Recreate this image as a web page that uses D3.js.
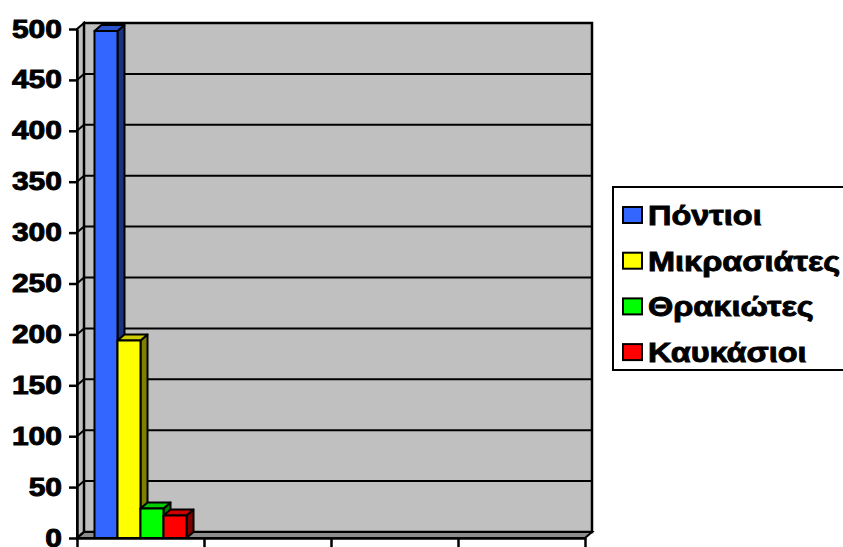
<!DOCTYPE html>
<html>
<head>
<meta charset="utf-8">
<script src="https://cdn.jsdelivr.net/npm/d3@7"></script>
<style>
  body { margin: 0; background: #fff; }
  svg text { font-family: "Liberation Sans", Arial, sans-serif; font-weight: bold; fill: #000; stroke: #000; stroke-width: 0.9px; }
</style>
</head>
<body>
<div id="chart"></div>
<script>
// chart data
const categories = ["1", "2", "3", "4"];
const series = ["Πόντιοι", "Μικρασιάτες", "Θρακιώτες", "Καυκάσιοι"];
const pontioi = [498, null, null, null];
const mikrasiates = [194, null, null, null];
const thrakiotes = [29, null, null, null];
const kaukasioi = [22, null, null, null];
const yTicks = [0, 50, 100, 150, 200, 250, 300, 350, 400, 450, 500];

const seriesValues = [pontioi, mikrasiates, thrakiotes, kaukasioi];

// colours: front, top, side
const colors = [
    ["#3366ff", "#2952cc", "#1a3380"],
    ["#ffff00", "#cccc00", "#808000"],
    ["#00ff00", "#00cc00", "#008000"],
    ["#ff0000", "#cc0000", "#800000"]
];

const width = 843, height = 547;
const dx = 7, dy = -6; // 3d depth offset

const svg = d3.select("#chart").append("svg")
    .attr("width", width)
    .attr("height", height);

const y = d3.scaleLinear().domain([0, 500]).range([538, 29]);
const x0 = d3.scaleBand().domain(categories).range([77, 585]);
const x1 = d3.scaleBand().domain(series).range([0, x0.bandwidth()]).paddingOuter(0.76);
const xEdge = d3.scaleLinear().domain([0, categories.length]).range(x0.range());

const plotLeft = x0.range()[0], plotRight = x0.range()[1];
const plotBottom = y(0), plotTop = y(d3.max(yTicks));

// side wall
svg.append("polygon")
    .attr("points", [[plotLeft, plotBottom], [plotLeft, plotTop], [plotLeft + dx, plotTop + dy], [plotLeft + dx, plotBottom + dy]].join(" "))
    .attr("fill", "#c0c0c0")
    .attr("stroke", "#000")
    .attr("stroke-width", 2);

// back wall
svg.append("rect")
    .attr("x", plotLeft + dx)
    .attr("y", plotTop + dy)
    .attr("width", plotRight - plotLeft)
    .attr("height", plotBottom - plotTop)
    .attr("fill", "#c0c0c0")
    .attr("stroke", "#000")
    .attr("stroke-width", 2.5);

// floor
svg.append("polygon")
    .attr("points", [[plotLeft, plotBottom], [plotRight, plotBottom], [plotRight + dx, plotBottom + dy], [plotLeft + dx, plotBottom + dy]].join(" "))
    .attr("fill", "#8c8c8c")
    .attr("stroke", "#000")
    .attr("stroke-width", 2);

// gridlines on back and side walls
const grid = svg.append("g").attr("stroke", "#000").attr("stroke-width", 2);
grid.selectAll(".back")
    .data(yTicks.slice(1, -1))
    .enter().append("line")
    .attr("x1", plotLeft + dx).attr("x2", plotRight + dx)
    .attr("y1", d => y(d) + dy).attr("y2", d => y(d) + dy);
grid.selectAll(".side")
    .data(yTicks.slice(0, -1))
    .enter().append("line")
    .attr("x1", plotLeft).attr("x2", plotLeft + dx)
    .attr("y1", d => y(d)).attr("y2", d => y(d) + dy);

// bars
const bars = [];
categories.forEach((c, ci) => {
    series.forEach((s, si) => {
        const v = seriesValues[si][ci];
        if (v != null) bars.push({ c, s, si, v });
    });
});

const barG = svg.append("g")
    .attr("stroke", "#000")
    .attr("stroke-width", 2)
    .attr("stroke-linejoin", "round");

bars.forEach(d => {
    const bx = x0(d.c) + x1(d.s);
    const w = x1.bandwidth();
    const ty = y(d.v);
    const g = barG.append("g");
    g.append("polygon")
        .attr("points", [[bx + w, ty], [bx + w + dx, ty + dy], [bx + w + dx, plotBottom + dy], [bx + w, plotBottom]].join(" "))
        .attr("fill", colors[d.si][2]);
    g.append("polygon")
        .attr("points", [[bx, ty], [bx + dx, ty + dy], [bx + w + dx, ty + dy], [bx + w, ty]].join(" "))
        .attr("fill", colors[d.si][1]);
    g.append("rect")
        .attr("x", bx)
        .attr("y", ty)
        .attr("width", w)
        .attr("height", plotBottom - ty)
        .attr("fill", colors[d.si][0]);
});

// y axis
const yAxis = svg.append("g")
    .attr("transform", `translate(${plotLeft},0)`)
    .call(d3.axisLeft(y).tickValues(yTicks).tickSize(8).tickSizeOuter(0));
yAxis.select(".domain").attr("stroke-width", 2.5);
yAxis.selectAll(".tick line").attr("stroke-width", 2.5);
yAxis.selectAll(".tick text")
    .attr("x", 0)
    .attr("transform", "translate(-15,0) scale(1.2,1)")
    .style("font-size", "25px");

// x axis
const xAxis = svg.append("g")
    .attr("transform", `translate(0,${plotBottom})`)
    .call(d3.axisBottom(xEdge).tickValues(d3.range(categories.length + 1)).tickSize(9).tickSizeOuter(0).tickFormat(""));
xAxis.select(".domain").attr("stroke-width", 2.5);
xAxis.selectAll(".tick line").attr("stroke-width", 2.5);

// legend
const legend = svg.append("g").attr("transform", "translate(613,187)");
legend.append("rect")
    .attr("x", 0).attr("y", 0)
    .attr("width", 250).attr("height", 183)
    .attr("fill", "#fff")
    .attr("stroke", "#000")
    .attr("stroke-width", 2);

const item = legend.selectAll(".item")
    .data(series)
    .enter().append("g")
    .attr("transform", (d, i) => `translate(10,${28 + i * 45.7})`);
item.append("rect")
    .attr("x", 0).attr("y", -8)
    .attr("width", 19).attr("height", 16)
    .attr("fill", (d, i) => colors[i][0])
    .attr("stroke", "#000")
    .attr("stroke-width", 2);
item.append("text")
    .attr("transform", "translate(25,0) scale(1.16,1)")
    .attr("dy", "0.36em")
    .style("font-size", "28px")
    .text(d => d);
</script>
</body>
</html>
